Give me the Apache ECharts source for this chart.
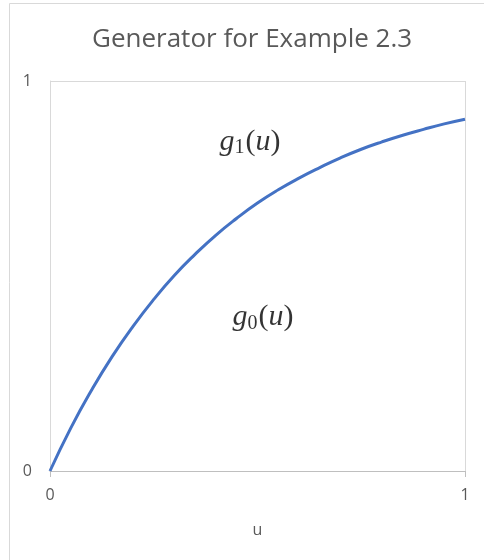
<!DOCTYPE html>
<html>
<head>
<meta charset="utf-8">
<script src="https://cdn.jsdelivr.net/npm/echarts@6/dist/echarts.min.js"></script>
<style>
html,body{margin:0;padding:0;background:#fff;}
#c{width:484px;height:560px;}
</style>
</head>
<body>
<div id="c"></div>
<script>
const titleText = 'Generator for Example 2.3';
const xName = 'u';
const uValues = [0, 0.05, 0.1, 0.15, 0.2, 0.25, 0.3, 0.35, 0.4, 0.45, 0.5, 0.55, 0.6, 0.65, 0.7, 0.75, 0.8, 0.85, 0.9, 0.95, 1];
const gValues = [0, 0.11, 0.207, 0.294, 0.371, 0.44, 0.502, 0.556, 0.605, 0.648, 0.687, 0.721, 0.751, 0.778, 0.803, 0.825, 0.844, 0.861, 0.876, 0.89, 0.902];
const xTicks = [0, 1];
const yTicks = [0, 1];
const annotations = [
  {u: 0.482, y: 0.843, sub: '1'},
  {u: 0.513, y: 0.394, sub: '0'}
];

const chart = echarts.init(document.getElementById('c'), null, {renderer: 'canvas'});
const curve = uValues.map((u, i) => [u, gValues[i]]);
const mathRich = {
  g: {fontFamily: 'Liberation Serif', fontStyle: 'italic', fontSize: 30, color: '#000'},
  s: {fontFamily: 'Liberation Serif', fontSize: 20, color: '#000', verticalAlign: 'bottom', padding: [12, 1, 0, 0]},
  p: {fontFamily: 'Liberation Serif', fontSize: 30, color: '#000'},
  u: {fontFamily: 'Liberation Serif', fontStyle: 'italic', fontSize: 30, color: '#000'}
};
chart.setOption({
  animation: false,
  title: {
    text: titleText, left: 87, top: 22,
    textStyle: {fontFamily: 'Open Sans', fontSize: 26, fontWeight: 'normal', color: '#595959'}
  },
  graphic: [{
    type: 'rect', shape: {x: 9.5, y: 3.5, width: 500, height: 600},
    style: {fill: 'none', stroke: '#d9d9d9', lineWidth: 1}, silent: true
  }],
  grid: {left: 50, right: 19, top: 81, bottom: 89},
  xAxis: {
    type: 'value', min: xTicks[0], max: xTicks[xTicks.length - 1], interval: 1,
    name: xName, nameLocation: 'middle', nameGap: 51,
    nameTextStyle: {fontFamily: 'Open Sans', fontSize: 16, color: '#595959'},
    axisLine: {show: true, lineStyle: {color: '#bfbfbf', width: 1}},
    axisTick: {show: true, length: 6, lineStyle: {color: '#bfbfbf'}},
    axisLabel: {margin: 16, fontFamily: 'Open Sans', fontSize: 16, color: '#595959'},
    splitLine: {show: true, lineStyle: {color: '#d9d9d9'}}
  },
  yAxis: {
    type: 'value', min: yTicks[0], max: yTicks[yTicks.length - 1], interval: 1,
    axisLine: {show: true, lineStyle: {color: '#d9d9d9', width: 1}},
    axisTick: {show: false},
    axisLabel: {margin: 18, fontFamily: 'Open Sans', fontSize: 16, color: '#595959'},
    splitLine: {show: true, lineStyle: {color: '#d9d9d9'}}
  },
  series: [{
    type: 'line', data: curve, smooth: true, showSymbol: false,
    lineStyle: {color: '#4472C4', width: 3}
  }, {
    type: 'scatter', symbolSize: 0,
    data: annotations.map(a => ({value: [a.u, a.y], sub: a.sub})),
    label: {
      show: true, position: 'inside',
      formatter: p => '{g|g}{s|' + p.data.sub + '}{p|(}{u|u}{p|)}',
      rich: mathRich
    }
  }]
});
</script>
</body>
</html>
